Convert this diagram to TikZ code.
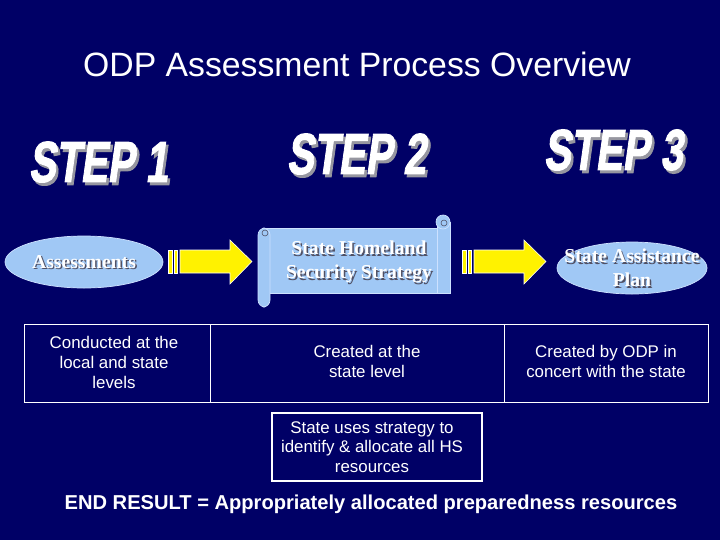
\documentclass[tikz,border=0pt]{standalone}
\usepackage{fontspec}
\setmainfont{Liberation Sans}
\newfontfamily\slideserif{Liberation Serif}
\newfontfamily\stepfont{Liberation Sans}[BoldFeatures={FakeBold=2}]
\usepackage{tikz}
\usetikzlibrary{shapes.geometric}

\definecolor{slidebg}{RGB}{0,0,102}
\definecolor{paleblue}{RGB}{160,200,245}
\definecolor{paleedge}{RGB}{205,225,255}
\definecolor{embossgray}{RGB}{80,80,100}
\definecolor{stepgray}{RGB}{150,150,160}

\tikzset{
  steptext/.style={font=\stepfont\bfseries\fontsize{41}{41}\selectfont, text=white, inner sep=0pt, transform shape},
  stepshade/.style={steptext, text=stepgray},
  bubble/.style={ellipse, fill=paleblue, draw=paleedge, line width=0.5pt},
  scrollpart/.style={fill=paleblue, draw=paleedge, line width=0.5pt},
  bluetext/.style={font=\slideserif\bfseries\fontsize{14}{17}\selectfont, text=white, align=center, inner sep=0pt},
  blueshade/.style={bluetext, text=embossgray},
  celltext/.style={font=\fontsize{12}{14.2}\selectfont, text=white, align=center, inner sep=0pt},
  bigarrow/.style={fill=yellow, draw=white, line width=0.4pt}
}

\begin{document}
\begin{tikzpicture}[x=0.025cm, y=-0.025cm]
  \useasboundingbox (0,0) rectangle (720,540);
  \fill[slidebg] (0,0) rectangle (720,540);

  % title
  \node[text=white, font=\fontsize{24}{24}\selectfont] (title) at (357,64) {ODP Assessment Process Overview};

  % step headings
  \foreach \nm/\px/\py/\num in {stepA/101/162/1, stepB/359/154/2, stepC/616/150/3} {
    \begin{scope}[shift={(\px,\py)}, xscale=0.7, xslant=0.2]
      \node[stepshade] at (4,3) {STEP \num};
      \node[steptext] (\nm) at (0,0) {STEP \num};
    \end{scope}
  }

  % step 1 ellipse
  \node[bubble, minimum width=158*0.025cm, minimum height=52*0.025cm] (assess) at (84,262) {};
  \node[blueshade] at (85.5,263.5) {Assessments};
  \node[bluetext] (assesslbl) at (84,262) {Assessments};

  % step 2 scroll
  \filldraw[scrollpart] (262,228) rectangle (450,293);
  \filldraw[scrollpart] (437,222) rectangle (450,293);
  \filldraw[scrollpart] (443,222) circle (7);
  \draw[embossgray, line width=0.4pt] (444,223) circle (3);
  \filldraw[scrollpart, rounded corners=5] (258,228) rectangle (270,307);
  \draw[embossgray, line width=0.4pt] (265,233) circle (3);
  \coordinate (strategy) at (359,262);
  \node[blueshade] at (360.5,263.5) {State Homeland\\Security Strategy};
  \node[bluetext] (strategylbl) at (strategy) {State Homeland\\Security Strategy};

  % step 3 ellipse
  \node[bubble, minimum width=150*0.025cm, minimum height=52*0.025cm] (plan) at (632,268) {};
  \node[blueshade] at (633.5,269.5) {State Assistance\\Plan};
  \node[bluetext] (planlbl) at (plan) {State Assistance\\Plan};

  % block arrows
  \foreach \ax in {168, 462} {
    \begin{scope}[shift={(\ax,0)}]
      \filldraw[bigarrow] (0,250) rectangle (4,273);
      \filldraw[bigarrow] (6.5,250) rectangle (9.5,273);
      \filldraw[bigarrow] (12,250) -- (62,250) -- (62,240) -- (84,261.5)
        -- (62,284) -- (62,273) -- (12,273) -- cycle;
    \end{scope}
  }

  % description table
  \draw[white, line width=0.6pt] (24,324) rectangle (708,402);
  \draw[white, line width=0.6pt] (210,324) -- (210,402);
  \draw[white, line width=0.6pt] (504,324) -- (504,402);
  \node[celltext] (cellA) at (114,362) {Conducted at the\\local and state\\levels};
  \node[celltext] (cellB) at (367,361) {Created at the\\state level};
  \node[celltext] (cellC) at (606,361) {Created by ODP in\\concert with the state};

  % resource box
  \draw[white, line width=1.6pt] (272,413) rectangle (482,481);
  \node[celltext, font=\fontsize{12}{13.8}\selectfont] (uses) at (372,447) {State uses strategy to\\identify \& allocate all HS\\resources};

  % end result
  \node[text=white, font=\bfseries\fontsize{14.3}{15}\selectfont] (result) at (371,504)
    {END RESULT = Appropriately allocated preparedness resources};
\end{tikzpicture}
\end{document}
